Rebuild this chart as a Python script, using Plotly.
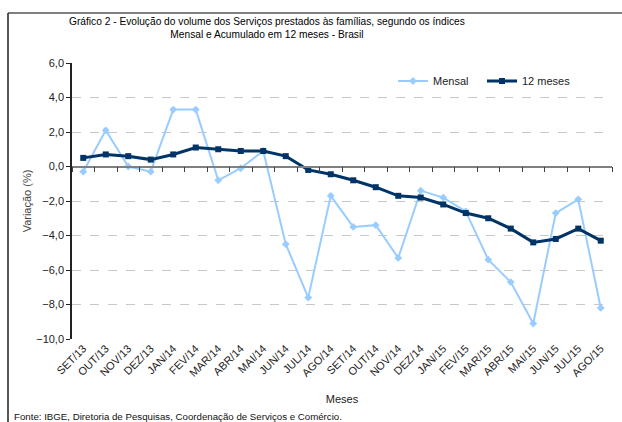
import plotly.graph_objects as go

meses = ["SET/13", "OUT/13", "NOV/13", "DEZ/13", "JAN/14", "FEV/14", "MAR/14", "ABR/14",
         "MAI/14", "JUN/14", "JUL/14", "AGO/14", "SET/14", "OUT/14", "NOV/14", "DEZ/14",
         "JAN/15", "FEV/15", "MAR/15", "ABR/15", "MAI/15", "JUN/15", "JUL/15", "AGO/15"]
mensal = [-0.3, 2.1, 0.0, -0.3, 3.3, 3.3, -0.8, -0.1, 0.9, -4.5, -7.6, -1.7,
          -3.5, -3.4, -5.3, -1.4, -1.8, -2.6, -5.4, -6.7, -9.1, -2.7, -1.9, -8.2]
acum12 = [0.5, 0.7, 0.6, 0.4, 0.7, 1.1, 1.0, 0.9, 0.9, 0.6, -0.2, -0.45,
          -0.8, -1.2, -1.7, -1.8, -2.2, -2.7, -3.0, -3.6, -4.4, -4.2, -3.6, -4.3]

W, H = 622, 422
L, R, T, B = 72, 612, 63, 339

def px(x):
    return (x - L) / (R - L)

def py(y):
    return (B - y) / (B - T)

fig = go.Figure()
fig.add_trace(go.Scatter(x=meses, y=mensal, name="Mensal", mode="lines+markers",
                         line=dict(color="#99ccff", width=2), legend="legend",
                         marker=dict(symbol="diamond", size=6, color="#99ccff")))
fig.add_trace(go.Scatter(x=meses, y=acum12, name="12 meses", mode="lines+markers",
                         line=dict(color="#003366", width=3), legend="legend2",
                         marker=dict(symbol="square", size=6, color="#003366")))
# invisible trace to render the zero-line category axis with boundary ticks
fig.add_trace(go.Scatter(x=meses, y=[None] * len(meses), xaxis="x2", showlegend=False,
                         hoverinfo="skip", mode="lines"))

font_ax = "Liberation Sans, Arial, sans-serif"
leg_common = dict(orientation="h", yanchor="middle", xanchor="left",
                  font=dict(family=font_ax, size=11, color="#222"),
                  bgcolor="rgba(0,0,0,0)", itemwidth=30)

fig.update_layout(
    width=W, height=H,
    margin=dict(l=L, r=W - R, t=T, b=H - B),
    paper_bgcolor="white", plot_bgcolor="white",
    separators=",.",
    showlegend=True,
    legend=dict(x=px(393), y=py(81), **leg_common),
    legend2=dict(x=px(482), y=py(81), **leg_common),
    xaxis=dict(type="category", range=[-0.5, 23.5], showgrid=False, showline=False,
               ticks="", tickangle=-45, automargin=False,
               tickfont=dict(family=font_ax, size=11, color="#222"),
               title=dict(text="Meses", font=dict(family=font_ax, size=11, color="#222"),
                          standoff=17)),
    xaxis2=dict(type="category", matches="x", overlaying="x", anchor="free",
                position=py(166.5), showline=True, linecolor="#808080", linewidth=1.5,
                ticks="outside", ticklen=5, tickcolor="#404040", tickson="boundaries",
                showticklabels=False, showgrid=False),
    yaxis=dict(range=[-10, 6], dtick=2, tickformat=".1f", showline=True, automargin=False,
               linecolor="#222", linewidth=1.5, ticks="outside", ticklen=4,
               tickcolor="#222", showgrid=True, gridcolor="#c8c8c8", griddash="dash",
               gridwidth=1, zeroline=False,
               tickfont=dict(family=font_ax, size=11, color="#222"),
               title=dict(text="Variação (%)", font=dict(family=font_ax, size=11, color="#444"),
                          standoff=2)),
    annotations=[
        dict(text="Gráfico 2 - Evolução do volume dos Serviços prestados às famílias, segundo os índices<br>Mensal e Acumulado em 12 meses - Brasil",
             xref="paper", yref="paper", x=px(267), y=py(28), xanchor="center", yanchor="middle",
             showarrow=False, font=dict(family=font_ax, size=10.2, color="#000")),
        dict(text="Fonte: IBGE, Diretoria de Pesquisas, Coordenação de Serviços e Comércio.",
             xref="paper", yref="paper", x=px(12), y=py(416), xanchor="left", yanchor="middle",
             showarrow=False, font=dict(family=font_ax, size=9.7, color="#111")),
    ],
    shapes=[
        dict(type="line", xref="paper", yref="paper", x0=px(8), x1=px(640), y0=py(13), y1=py(13),
             line=dict(color="#808080", width=2)),
        dict(type="line", xref="paper", yref="paper", x0=px(8), x1=px(8), y0=py(13), y1=py(440),
             line=dict(color="#202020", width=1.5)),
    ],
)

fig.write_html("out.html", config={"displayModeBar": False},
               post_script="document.body.style.margin='0';document.body.style.overflow='hidden';")
